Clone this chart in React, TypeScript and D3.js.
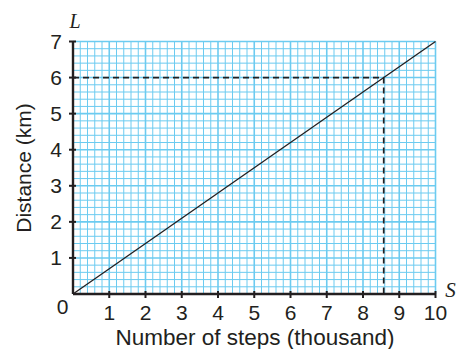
import React from "react";
import * as d3 from "d3";

const xTicks = [1, 2, 3, 4, 5, 6, 7, 8, 9, 10];
const yTicks = [1, 2, 3, 4, 5, 6, 7];
const linePoints: [number, number][] = [
  [0, 0],
  [10, 7],
];
const readingDistance = 6;
const readingSteps = 60 / 7;
const xTitle = "Number of steps (thousand)";
const yTitle = "Distance (km)";

const W = 456;
const H = 349;
const X0 = 73, X1 = 435.5, Y0 = 294, Y1 = 41.5;
const FONT = "'Liberation Sans', Arial, Helvetica, sans-serif";
const SERIF = "'Liberation Serif', 'Times New Roman', serif";
const AX = "#231f20";
const GRID = "#6ccbf0";

export default function App() {
  const x = d3.scaleLinear().domain([0, 10]).range([X0, X1]);
  const y = d3.scaleLinear().domain([0, 7]).range([Y0, Y1]);
  const minorX = d3.range(0, 50 + 1).map((i) => i / 5);
  const minorY = d3.range(0, 35 + 1).map((i) => i / 5);
  const line = d3.line<[number, number]>().x((d) => x(d[0])).y((d) => y(d[1]));

  return (
    <svg
      width={W}
      height={H}
      style={{ position: "absolute", left: 0, top: 0, background: "#fff" }}
    >
      <rect x={0} y={0} width={W} height={H} fill="#fff" />
      <g>
        {minorX.map((v, i) => (
          <line
            key={"gx" + i}
            x1={x(v)}
            x2={x(v)}
            y1={y(0)}
            y2={y(7)}
            stroke={GRID}
            strokeWidth={i % 5 === 0 ? 1.6 : 1}
          />
        ))}
        {minorY.map((v, i) => (
          <line
            key={"gy" + i}
            x1={x(0)}
            x2={x(10)}
            y1={y(v)}
            y2={y(v)}
            stroke={GRID}
            strokeWidth={i % 5 === 0 ? 1.6 : 1}
          />
        ))}
      </g>
      <path d={line(linePoints) || ""} fill="none" stroke={AX} strokeWidth={1.3} />
      <line
        x1={x(0)}
        x2={x(readingSteps)}
        y1={y(readingDistance)}
        y2={y(readingDistance)}
        stroke={AX}
        strokeWidth={1.7}
        strokeDasharray="6,4"
      />
      <line
        x1={x(readingSteps)}
        x2={x(readingSteps)}
        y1={y(readingDistance)}
        y2={y(0)}
        stroke={AX}
        strokeWidth={1.7}
        strokeDasharray="6,4"
      />
      <line x1={x(0)} x2={x(10)} y1={y(0)} y2={y(0)} stroke={AX} strokeWidth={2.4} />
      <line x1={x(0)} x2={x(0)} y1={y(0)} y2={y(7)} stroke={AX} strokeWidth={2.4} />
      {xTicks.map((t) => (
        <g key={"xt" + t}>
          <line x1={x(t)} x2={x(t)} y1={y(0) - 3} y2={y(0) + 4} stroke={AX} strokeWidth={2} />
          <text
            x={x(t)}
            y={y(0) + 26}
            textAnchor="middle"
            fontFamily={FONT}
            fontSize={21}
            fill={AX}
          >
            {t}
          </text>
        </g>
      ))}
      {yTicks.map((t) => (
        <g key={"yt" + t}>
          <line x1={x(0) - 4} x2={x(0) + 3} y1={y(t)} y2={y(t)} stroke={AX} strokeWidth={2} />
          <text
            x={x(0) - 11}
            y={y(t) + 7.5}
            textAnchor="end"
            fontFamily={FONT}
            fontSize={21}
            fill={AX}
          >
            {t}
          </text>
        </g>
      ))}
      <text x={x(0) - 10.5} y={y(0) + 20} textAnchor="middle" fontFamily={FONT} fontSize={21} fill={AX}>
        0
      </text>
      <text
        x={x(0) + 2}
        y={28}
        textAnchor="middle"
        fontFamily={SERIF}
        fontStyle="italic"
        fontSize={20}
        fill={AX}
      >
        L
      </text>
      <text
        x={x(10) + 15}
        y={y(0) + 3}
        textAnchor="middle"
        fontFamily={SERIF}
        fontStyle="italic"
        fontSize={21}
        fill={AX}
      >
        S
      </text>
      <text
        x={255}
        y={345}
        textAnchor="middle"
        fontFamily={FONT}
        fontSize={22.5}
        fill={AX}
      >
        {xTitle}
      </text>
      <text
        transform={`translate(30.5,168) rotate(-90)`}
        textAnchor="middle"
        fontFamily={FONT}
        fontSize={21}
        fill={AX}
      >
        {yTitle}
      </text>
    </svg>
  );
}
